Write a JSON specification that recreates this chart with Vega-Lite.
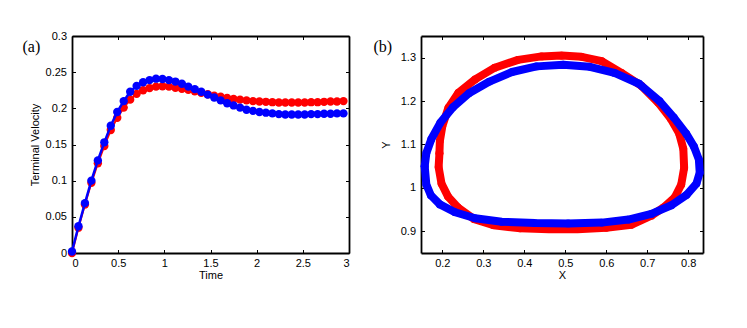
{
  "$schema": "https://vega.github.io/schema/vega-lite/v6.json",
  "padding": {"left": 22, "top": 30, "right": 42, "bottom": 48},
  "spacing": 23,
  "background": "white",
  "datasets": {
    "vel": [
      {"t":0,"s":"red","v":0.0},{"t":0.07,"s":"red","v":0.035},{"t":0.14,"s":"red","v":0.067},{"t":0.21,"s":"red","v":0.097},{"t":0.28,"s":"red","v":0.124},{"t":0.35,"s":"red","v":0.148},{"t":0.42,"s":"red","v":0.17},{"t":0.49,"s":"red","v":0.187},{"t":0.56,"s":"red","v":0.201},{"t":0.63,"s":"red","v":0.212},{"t":0.7,"s":"red","v":0.22},{"t":0.77,"s":"red","v":0.225},{"t":0.84,"s":"red","v":0.228},{"t":0.91,"s":"red","v":0.23},{"t":0.98,"s":"red","v":0.2305},{"t":1.05,"s":"red","v":0.23},{"t":1.12,"s":"red","v":0.2285},{"t":1.19,"s":"red","v":0.227},{"t":1.26,"s":"red","v":0.2255},{"t":1.33,"s":"red","v":0.2235},{"t":1.4,"s":"red","v":0.2215},{"t":1.47,"s":"red","v":0.2195},{"t":1.54,"s":"red","v":0.2175},{"t":1.61,"s":"red","v":0.216},{"t":1.68,"s":"red","v":0.2145},{"t":1.75,"s":"red","v":0.213},{"t":1.82,"s":"red","v":0.212},{"t":1.89,"s":"red","v":0.211},{"t":1.96,"s":"red","v":0.21},{"t":2.03,"s":"red","v":0.2095},{"t":2.1,"s":"red","v":0.209},{"t":2.17,"s":"red","v":0.2085},{"t":2.24,"s":"red","v":0.208},{"t":2.31,"s":"red","v":0.208},{"t":2.38,"s":"red","v":0.208},{"t":2.45,"s":"red","v":0.208},{"t":2.52,"s":"red","v":0.208},{"t":2.59,"s":"red","v":0.2085},{"t":2.66,"s":"red","v":0.2085},{"t":2.73,"s":"red","v":0.209},{"t":2.8,"s":"red","v":0.2095},{"t":2.87,"s":"red","v":0.2095},{"t":2.94,"s":"red","v":0.21},
      {"t":0,"s":"blue","v":0.002},{"t":0.07,"s":"blue","v":0.037},{"t":0.14,"s":"blue","v":0.069},{"t":0.21,"s":"blue","v":0.1},{"t":0.28,"s":"blue","v":0.128},{"t":0.35,"s":"blue","v":0.153},{"t":0.42,"s":"blue","v":0.176},{"t":0.49,"s":"blue","v":0.195},{"t":0.56,"s":"blue","v":0.21},{"t":0.63,"s":"blue","v":0.223},{"t":0.7,"s":"blue","v":0.231},{"t":0.77,"s":"blue","v":0.236},{"t":0.84,"s":"blue","v":0.239},{"t":0.91,"s":"blue","v":0.241},{"t":0.98,"s":"blue","v":0.2405},{"t":1.05,"s":"blue","v":0.239},{"t":1.12,"s":"blue","v":0.237},{"t":1.19,"s":"blue","v":0.234},{"t":1.26,"s":"blue","v":0.23},{"t":1.33,"s":"blue","v":0.2265},{"t":1.4,"s":"blue","v":0.223},{"t":1.47,"s":"blue","v":0.219},{"t":1.54,"s":"blue","v":0.215},{"t":1.61,"s":"blue","v":0.211},{"t":1.68,"s":"blue","v":0.207},{"t":1.75,"s":"blue","v":0.204},{"t":1.82,"s":"blue","v":0.201},{"t":1.89,"s":"blue","v":0.198},{"t":1.96,"s":"blue","v":0.1965},{"t":2.03,"s":"blue","v":0.195},{"t":2.1,"s":"blue","v":0.194},{"t":2.17,"s":"blue","v":0.193},{"t":2.24,"s":"blue","v":0.192},{"t":2.31,"s":"blue","v":0.1915},{"t":2.38,"s":"blue","v":0.1915},{"t":2.45,"s":"blue","v":0.1915},{"t":2.52,"s":"blue","v":0.1915},{"t":2.59,"s":"blue","v":0.192},{"t":2.66,"s":"blue","v":0.192},{"t":2.73,"s":"blue","v":0.1925},{"t":2.8,"s":"blue","v":0.1925},{"t":2.87,"s":"blue","v":0.193},{"t":2.94,"s":"blue","v":0.193}
    ],
    "loop": [
      {"s":"red","i":0,"x":0.193,"y":1.08},{"s":"red","i":1,"x":0.191,"y":1.048},{"s":"red","i":2,"x":0.198,"y":1.01},{"s":"red","i":3,"x":0.214,"y":0.98},{"s":"red","i":4,"x":0.238,"y":0.955},{"s":"red","i":5,"x":0.278,"y":0.928},{"s":"red","i":6,"x":0.325,"y":0.914},{"s":"red","i":7,"x":0.39,"y":0.907},{"s":"red","i":8,"x":0.46,"y":0.905},{"s":"red","i":9,"x":0.53,"y":0.905},{"s":"red","i":10,"x":0.6,"y":0.908},{"s":"red","i":11,"x":0.661,"y":0.915},{"s":"red","i":12,"x":0.71,"y":0.936},{"s":"red","i":13,"x":0.74,"y":0.955},{"s":"red","i":14,"x":0.767,"y":0.978},{"s":"red","i":15,"x":0.783,"y":1.008},{"s":"red","i":16,"x":0.79,"y":1.046},{"s":"red","i":17,"x":0.788,"y":1.09},{"s":"red","i":18,"x":0.778,"y":1.125},{"s":"red","i":19,"x":0.757,"y":1.16},{"s":"red","i":20,"x":0.727,"y":1.196},{"s":"red","i":21,"x":0.686,"y":1.235},{"s":"red","i":22,"x":0.637,"y":1.265},{"s":"red","i":23,"x":0.589,"y":1.292},{"s":"red","i":24,"x":0.54,"y":1.302},{"s":"red","i":25,"x":0.491,"y":1.305},{"s":"red","i":26,"x":0.442,"y":1.303},{"s":"red","i":27,"x":0.385,"y":1.295},{"s":"red","i":28,"x":0.328,"y":1.277},{"s":"red","i":29,"x":0.28,"y":1.25},{"s":"red","i":30,"x":0.239,"y":1.219},{"s":"red","i":31,"x":0.215,"y":1.185},{"s":"red","i":32,"x":0.2,"y":1.142},{"s":"red","i":33,"x":0.194,"y":1.108},{"s":"red","i":34,"x":0.193,"y":1.08},
      {"s":"blue","i":0,"x":0.157,"y":1.05},{"s":"blue","i":1,"x":0.161,"y":1.008},{"s":"blue","i":2,"x":0.172,"y":0.983},{"s":"blue","i":3,"x":0.194,"y":0.962},{"s":"blue","i":4,"x":0.231,"y":0.944},{"s":"blue","i":5,"x":0.28,"y":0.93},{"s":"blue","i":6,"x":0.345,"y":0.922},{"s":"blue","i":7,"x":0.426,"y":0.919},{"s":"blue","i":8,"x":0.507,"y":0.918},{"s":"blue","i":9,"x":0.589,"y":0.92},{"s":"blue","i":10,"x":0.654,"y":0.927},{"s":"blue","i":11,"x":0.71,"y":0.94},{"s":"blue","i":12,"x":0.759,"y":0.96},{"s":"blue","i":13,"x":0.796,"y":0.984},{"s":"blue","i":14,"x":0.82,"y":1.01},{"s":"blue","i":15,"x":0.828,"y":1.035},{"s":"blue","i":16,"x":0.826,"y":1.065},{"s":"blue","i":17,"x":0.814,"y":1.095},{"s":"blue","i":18,"x":0.795,"y":1.125},{"s":"blue","i":19,"x":0.765,"y":1.162},{"s":"blue","i":20,"x":0.73,"y":1.2},{"s":"blue","i":21,"x":0.68,"y":1.24},{"s":"blue","i":22,"x":0.62,"y":1.265},{"s":"blue","i":23,"x":0.56,"y":1.279},{"s":"blue","i":24,"x":0.495,"y":1.284},{"s":"blue","i":25,"x":0.43,"y":1.28},{"s":"blue","i":26,"x":0.37,"y":1.267},{"s":"blue","i":27,"x":0.315,"y":1.245},{"s":"blue","i":28,"x":0.265,"y":1.218},{"s":"blue","i":29,"x":0.226,"y":1.186},{"s":"blue","i":30,"x":0.195,"y":1.15},{"s":"blue","i":31,"x":0.173,"y":1.112},{"s":"blue","i":32,"x":0.161,"y":1.08},{"s":"blue","i":33,"x":0.157,"y":1.05}
    ]
  },
  "hconcat": [
    {
      "width": 277,
      "height": 217,
      "data": {"name": "vel"},
      "layer": [
        {
          "transform": [{"filter": "datum.s === 'red'"}],
          "mark": {"type": "line", "color": "#ff0000", "strokeWidth": 2},
          "encoding": {
            "x": {"field": "t", "type": "quantitative", "scale": {"domain": [0, 3], "nice": false, "zero": false},
                  "axis": {"orient": "bottom", "values": [0, 0.5, 1, 1.5, 2, 2.5, 3], "format": "~g", "title": "Time", "titleY": 25.5, "titleBaseline": "alphabetic"}},
            "y": {"field": "v", "type": "quantitative", "scale": {"domain": [0, 0.3], "nice": false},
                  "axis": {"orient": "left", "values": [0, 0.05, 0.1, 0.15, 0.2, 0.25, 0.3], "format": "~g", "title": "Terminal Velocity", "titleX": -37, "titleBaseline": "middle"}}
          }
        },
        {
          "transform": [{"filter": "datum.s === 'red'"}],
          "mark": {"type": "circle", "color": "#ff0000", "size": 70, "opacity": 1},
          "encoding": {
            "x": {"field": "t", "type": "quantitative",
                  "axis": {"orient": "top", "values": [0, 0.5, 1, 1.5, 2, 2.5, 3], "labels": false, "title": "(a)", "titleX": -50, "titleY": 10, "titleAlign": "left", "titleBaseline": "middle", "titleAngle": 0, "titleFont": "Liberation Serif", "titleFontSize": 16}},
            "y": {"field": "v", "type": "quantitative",
                  "axis": {"orient": "right", "values": [0, 0.05, 0.1, 0.15, 0.2, 0.25, 0.3], "labels": false, "title": null}}
          }
        },
        {
          "transform": [{"filter": "datum.s === 'blue'"}],
          "mark": {"type": "line", "color": "#0000ff", "strokeWidth": 2.5},
          "encoding": {
            "x": {"field": "t", "type": "quantitative", "axis": null},
            "y": {"field": "v", "type": "quantitative", "axis": null}
          }
        },
        {
          "transform": [{"filter": "datum.s === 'blue'"}],
          "mark": {"type": "circle", "color": "#0000ff", "size": 70, "opacity": 1},
          "encoding": {
            "x": {"field": "t", "type": "quantitative", "axis": null},
            "y": {"field": "v", "type": "quantitative", "axis": null}
          }
        }
      ],
      "resolve": {"axis": {"x": "independent", "y": "independent"}}
    },
    {
      "width": 282,
      "height": 217,
      "data": {"name": "loop"},
      "layer": [
        {
          "transform": [{"filter": "datum.s === 'red'"}],
          "mark": {"type": "line", "color": "#ff0000", "strokeWidth": 8, "strokeCap": "round", "strokeJoin": "round"},
          "encoding": {
            "x": {"field": "x", "type": "quantitative", "scale": {"domain": [0.148, 0.836], "nice": false, "zero": false},
                  "axis": {"orient": "bottom", "values": [0.2, 0.3, 0.4, 0.5, 0.6, 0.7, 0.8], "format": "~g", "title": "X", "titleY": 25.5, "titleBaseline": "alphabetic"}},
            "y": {"field": "y", "type": "quantitative", "scale": {"domain": [0.85, 1.35], "nice": false, "zero": false},
                  "axis": {"orient": "left", "values": [0.9, 1, 1.1, 1.2, 1.3], "format": "~g", "title": "Y", "titleX": -35, "titleBaseline": "middle"}},
            "order": {"field": "i", "type": "quantitative"}
          }
        },
        {
          "transform": [{"filter": "datum.s === 'red'"}],
          "mark": {"type": "circle", "color": "#ff0000", "size": 60, "opacity": 1},
          "encoding": {
            "x": {"field": "x", "type": "quantitative",
                  "axis": {"orient": "top", "values": [0.2, 0.3, 0.4, 0.5, 0.6, 0.7, 0.8], "labels": false, "title": "(b)", "titleX": -48, "titleY": 10, "titleAlign": "left", "titleBaseline": "middle", "titleAngle": 0, "titleFont": "Liberation Serif", "titleFontSize": 16}},
            "y": {"field": "y", "type": "quantitative",
                  "axis": {"orient": "right", "values": [0.9, 1, 1.1, 1.2, 1.3], "labels": false, "title": null}}
          }
        },
        {
          "transform": [{"filter": "datum.s === 'blue'"}],
          "mark": {"type": "line", "color": "#0000ff", "strokeWidth": 8, "strokeCap": "round", "strokeJoin": "round"},
          "encoding": {
            "x": {"field": "x", "type": "quantitative", "axis": null},
            "y": {"field": "y", "type": "quantitative", "axis": null},
            "order": {"field": "i", "type": "quantitative"}
          }
        },
        {
          "transform": [{"filter": "datum.s === 'blue'"}],
          "mark": {"type": "circle", "color": "#0000ff", "size": 60, "opacity": 1},
          "encoding": {
            "x": {"field": "x", "type": "quantitative", "axis": null},
            "y": {"field": "y", "type": "quantitative", "axis": null}
          }
        }
      ],
      "resolve": {"axis": {"x": "independent", "y": "independent"}}
    }
  ],
  "config": {
    "view": {"stroke": null},
    "axis": {
      "domain": true,
      "domainColor": "black",
      "domainWidth": 1.8,
      "grid": false,
      "tickColor": "black",
      "tickSize": -3.5,
      "tickWidth": 1,
      "labelFont": "Liberation Sans",
      "labelFontSize": 11,
      "labelColor": "black",
      "titleFont": "Liberation Sans",
      "titleFontSize": 11,
      "titleFontWeight": "normal",
      "titleColor": "black"
    },
    "axisX": {"labelPadding": 8},
    "axisY": {"labelPadding": 9}
  }
}
